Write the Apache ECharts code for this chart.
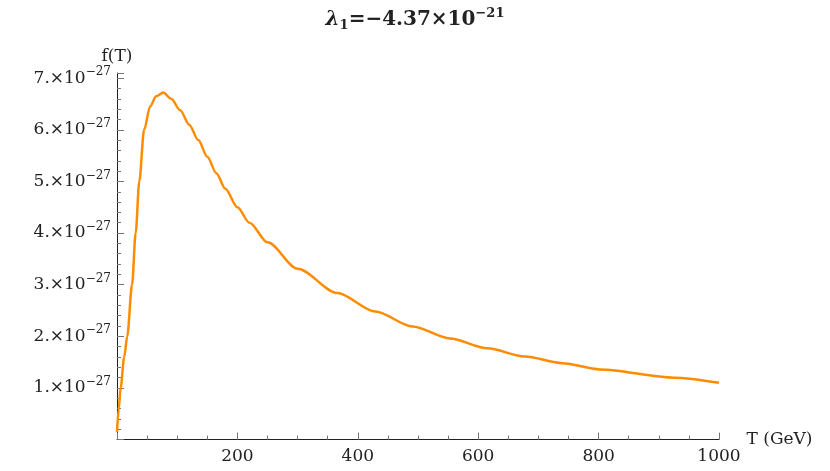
<!DOCTYPE html><html><head><meta charset="utf-8"><script src="https://cdn.jsdelivr.net/npm/echarts@6/dist/echarts.min.js"></script></head><body style="margin:0"><div id="c" style="width:830px;height:471px"></div><script>
const T=[0,3,6,12,17,25,31,37,45,55,65,77,90,105,120,135,150,165,180,200,220,250,300,366,429,491,553,615,677,740,802,926,1000];
const F=[0.15,0.6,1.0,1.6,2.0,3.0,4.0,5.0,6.0,6.45,6.65,6.72,6.6,6.38,6.1,5.8,5.48,5.16,4.86,4.5,4.2,3.82,3.31,2.84,2.48,2.19,1.96,1.77,1.61,1.48,1.36,1.20,1.10];
const yTicks=[1,2,3,4,5,6,7];
const ff='DejaVu Serif';
const c=echarts.init(document.getElementById('c'));
c.setOption({animation:false,
title:{text:'{i|λ}{s|1}{a|=−4.37×10}{p|−21}',left:'center',top:2,textStyle:{rich:{
i:{fontFamily:ff,fontStyle:'italic',fontSize:20,color:'#222'},s:{fontFamily:ff,fontSize:13,color:'#222',padding:[12,0,0,0]},
a:{fontFamily:ff,fontSize:20,color:'#222'},p:{fontFamily:ff,fontSize:13,color:'#222',padding:[0,0,12,0]}}}},
grid:{left:117,right:111,top:73,bottom:31.4},
xAxis:{type:'value',min:0,max:1000,interval:200,name:'T (GeV)',nameGap:6,nameTextStyle:{fontFamily:ff,fontSize:17,color:'#222',verticalAlign:'middle'},
axisLine:{lineStyle:{color:'#222'}},axisTick:{inside:true,length:7,lineStyle:{color:'#777'}},minorTick:{show:true,splitNumber:4,length:4,lineStyle:{color:'#777'}},splitLine:{show:false},
axisLabel:{fontFamily:ff,fontSize:17,color:'#222',formatter:v=>v===0?'':v}},
yAxis:{type:'value',min:0,max:7.1,interval:1,name:'f(T)',nameGap:8,nameTextStyle:{fontFamily:ff,fontSize:17,color:'#222',align:'center'},
axisLine:{lineStyle:{color:'#222'}},axisTick:{inside:true,length:7,lineStyle:{color:'#777'}},minorTick:{show:true,splitNumber:5,length:4,lineStyle:{color:'#777'}},splitLine:{show:false},
axisLabel:{margin:6,formatter:v=>yTicks.includes(v)?'{a|'+v+'.×10}{s|−27}':'',rich:{a:{fontFamily:ff,fontSize:17,color:'#222'},s:{fontFamily:ff,fontSize:12,color:'#222',padding:[0,0,12,0]}}}},
series:[{type:'line',smooth:0.3,smoothMonotone:'x',symbol:'none',data:T.map((t,i)=>[t,F[i]]),lineStyle:{color:'#ff8c00',width:2.5}}]});
</script></body></html>
